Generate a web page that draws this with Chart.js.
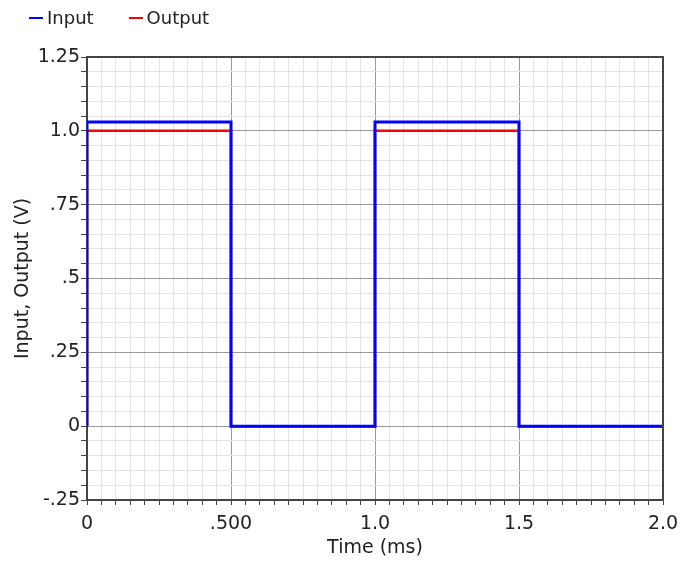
<!DOCTYPE html>
<html>
<head>
<meta charset="utf-8">
<script src="https://cdn.jsdelivr.net/npm/chart.js@4.4.1/dist/chart.umd.min.js"></script>
<style>
  body { margin: 0; background: #fff; font-family: "DejaVu Sans", sans-serif; }
  #wrap { position: relative; width: 681px; height: 563px; }
  #chart { display: block; }
  #legend { position: absolute; left: 29px; top: 7px; font-size: 18px; color: #222; display: flex; }
  .item { display: flex; align-items: center; margin-right: 35px; }
  .swatch { width: 14px; height: 2px; margin-right: 4px; }
</style>
</head>
<body>
<div id="wrap">
  <canvas id="chart" width="681" height="563"></canvas>
  <div id="legend"></div>
</div>
<script>
// square wave
const timeMs  = [0, 0, 0.5, 0.5, 1.0, 1.0, 1.5, 1.5, 2.0];
const inputV  = [0, 1.03, 1.03, 0, 0, 1.03, 1.03, 0, 0];
const outputV = [0, 1.0, 1.0, 0, 0, 1.0, 1.0, 0, 0];

const seriesNames  = ["Input", "Output"];
const seriesColors = ["#0000ff", "#ff0000"];

const xMajorTicks = [0, 0.5, 1.0, 1.5, 2.0];
const xTickLabels = ["0", ".500", "1.0", "1.5", "2.0"];
const yMajorTicks = [-0.25, 0, 0.25, 0.5, 0.75, 1.0, 1.25];
const yTickLabels = ["-.25", "0", ".25", ".5", ".75", "1.0", "1.25"];
const minorStep = 0.05;

const FONT = { family: "DejaVu Sans", size: 19 };
const TEXT = "#222";

const isMajor = (majors, v) => majors.some(m => Math.abs(m - v) < 1e-6);
const labelFor = (majors, labels, v) => {
  const i = majors.findIndex(m => Math.abs(m - v) < 1e-6);
  return i >= 0 ? labels[i] : "";
};
const minorTicks = (min, max) => {
  const out = [];
  for (let v = min; v <= max + 1e-9; v += minorStep) out.push({ value: +v.toFixed(4) });
  return out;
};

// html legend
const legendEl = document.getElementById("legend");
legendEl.innerHTML = seriesNames.map((n, i) =>
  `<div class="item"><span class="swatch" style="background:${seriesColors[i]}"></span>${n}</div>`
).join("");

// box around the plot (top + right edges)
const frame = {
  id: "frame",
  afterDatasetsDraw(chart) {
    const { ctx, chartArea: a } = chart;
    ctx.save();
    ctx.strokeStyle = "#444";
    ctx.lineWidth = 2;
    ctx.beginPath();
    ctx.moveTo(a.left, a.top);
    ctx.lineTo(a.right, a.top);
    ctx.lineTo(a.right, a.bottom);
    ctx.stroke();
    ctx.restore();
  }
};

new Chart(document.getElementById("chart"), {
  type: "line",
  data: {
    datasets: [
      { label: seriesNames[0], data: timeMs.map((t, i) => ({ x: t, y: inputV[i] })),
        borderColor: seriesColors[0], borderWidth: 3, order: 0 },
      { label: seriesNames[1], data: timeMs.map((t, i) => ({ x: t, y: outputV[i] })),
        borderColor: seriesColors[1], borderWidth: 2.5, order: 1 }
    ]
  },
  options: {
    responsive: false,
    animation: false,
    elements: { point: { radius: 0 }, line: { tension: 0, borderCapStyle: "butt" } },
    layout: { padding: { left: 0, top: 57, right: 18, bottom: 0 } },
    plugins: { legend: { display: false }, tooltip: { enabled: false } },
    scales: {
      x: {
        type: "linear", min: 0, max: 2,
        afterBuildTicks: s => { s.ticks = minorTicks(0, 2); },
        afterFit: s => { s.height = 63; s.paddingLeft = 0; s.paddingRight = 0; },
        ticks: {
          autoSkip: false, maxRotation: 0, padding: 8, color: TEXT, font: FONT,
          callback: v => labelFor(xMajorTicks, xTickLabels, v)
        },
        grid: {
          color: c => isMajor(xMajorTicks, c.tick.value) ? "#999" : "#e4e4e4",
          tickColor: "#444", tickLength: 5
        },
        border: { color: "#444", width: 2 },
        title: { display: true, text: "Time (ms)", color: TEXT, font: FONT, padding: { top: 4, bottom: 4 } }
      },
      y: {
        type: "linear", min: -0.25, max: 1.25,
        afterBuildTicks: s => { s.ticks = minorTicks(-0.25, 1.25); },
        afterFit: s => { s.width = 87; s.paddingTop = 0; s.paddingBottom = 0; },
        ticks: {
          autoSkip: false, padding: 1, color: TEXT, font: FONT,
          callback: v => labelFor(yMajorTicks, yTickLabels, v)
        },
        grid: {
          color: c => isMajor(yMajorTicks, c.tick.value) ? "#999" : "#e4e4e4",
          tickColor: "#444", tickLength: 6
        },
        border: { color: "#444", width: 2 },
        title: { display: true, text: "Input, Output (V)", color: TEXT, font: FONT, padding: { top: 12, bottom: 0 } }
      }
    }
  },
  plugins: [frame]
});
</script>
</body>
</html>
